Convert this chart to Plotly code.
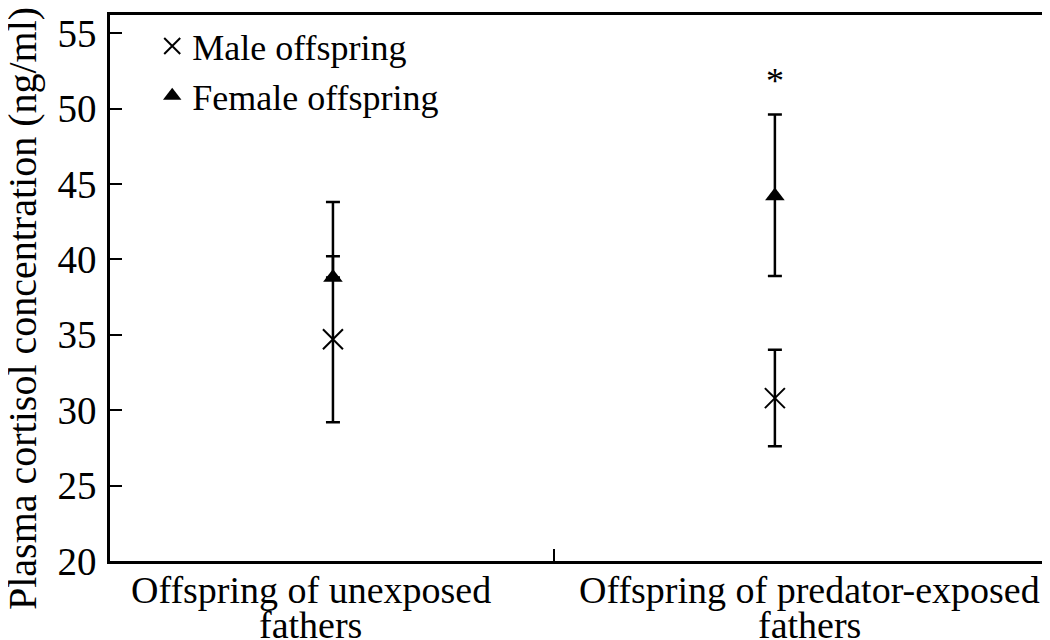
import plotly.graph_objects as go

groups = ["Offspring of unexposed<br>fathers", "Offspring of predator-exposed<br>fathers"]
group_x = [0, 1]
male_mean = [34.7, 30.8]
male_err = [5.5, 3.2]
female_mean = [38.8, 44.2]
female_err_up = [5.0, 5.4]
female_err_down = [0.0, 5.3]
sig_x = [1]
sig_y = [51.8]
y_ticks = [20, 25, 30, 35, 40, 45, 50, 55]

FONT = "Liberation Serif"
fig = go.Figure()
fig.add_trace(go.Scatter(
    x=group_x, y=male_mean, mode="markers", name="Male offspring",
    legendgroup="m",
    marker=dict(symbol="x-thin", size=20, color="black", line=dict(width=2, color="black")),
    error_y=dict(type="data", array=male_err, color="black", thickness=2.5, width=7),
))
fig.add_trace(go.Scatter(
    x=group_x, y=female_mean, mode="markers", name="Female offspring",
    legendgroup="f",
    marker=dict(symbol="triangle-up", size=17, color="black"),
    error_y=dict(type="data", symmetric=False, array=female_err_up, arrayminus=female_err_down,
                 color="black", thickness=2.5, width=7),
))

for sx, sy in zip(sig_x, sig_y):
    fig.add_annotation(x=sx, y=sy, text="*", showarrow=False, font=dict(family=FONT, size=36, color="black"))

label_x = [-0.05, 1.079]
line_y = [-0.053, -0.117]
for lx, g in zip(label_x, groups):
    for ly, line in zip(line_y, g.split("<br>")):
        fig.add_annotation(x=lx, xref="x", y=ly, yref="paper", yanchor="middle", text=line, showarrow=False,
                           font=dict(family=FONT, size=38, color="black"))

fig.add_annotation(x=-0.094, xref="paper", xanchor="center", y=0.463, yref="paper",
                   text="Plasma cortisol concentration (ng/ml)",
                   textangle=-90, showarrow=False, font=dict(family=FONT, size=40, color="black"))

fig.update_layout(
    width=1042, height=632,
    margin=dict(l=102, r=2, t=7, b=79),
    plot_bgcolor="white", paper_bgcolor="white",
    font=dict(family=FONT, size=38, color="black"),
    showlegend=True,
    legend=dict(x=0.045, y=0.998, xanchor="left", yanchor="top", bgcolor="rgba(0,0,0,0)",
                tracegroupgap=0, font=dict(family=FONT, size=36)),
    xaxis=dict(range=[-0.5045, 1.618], showgrid=False, zeroline=False, showline=True, linecolor="black",
               linewidth=2.5, mirror=True, ticks="inside", tickvals=[0.5], ticklen=12, tickwidth=2,
               tickcolor="black", showticklabels=False, automargin=False),
    yaxis=dict(range=[20, 56.2], showgrid=False, zeroline=False, showline=True, linecolor="black",
               linewidth=2.5, mirror=True, ticks="inside", tickvals=y_ticks, ticklen=12, tickwidth=2,
               tickcolor="black", tickfont=dict(family=FONT, size=39), ticklabelstandoff=3,
               automargin=False),
)
fig.write_html("out.html")
